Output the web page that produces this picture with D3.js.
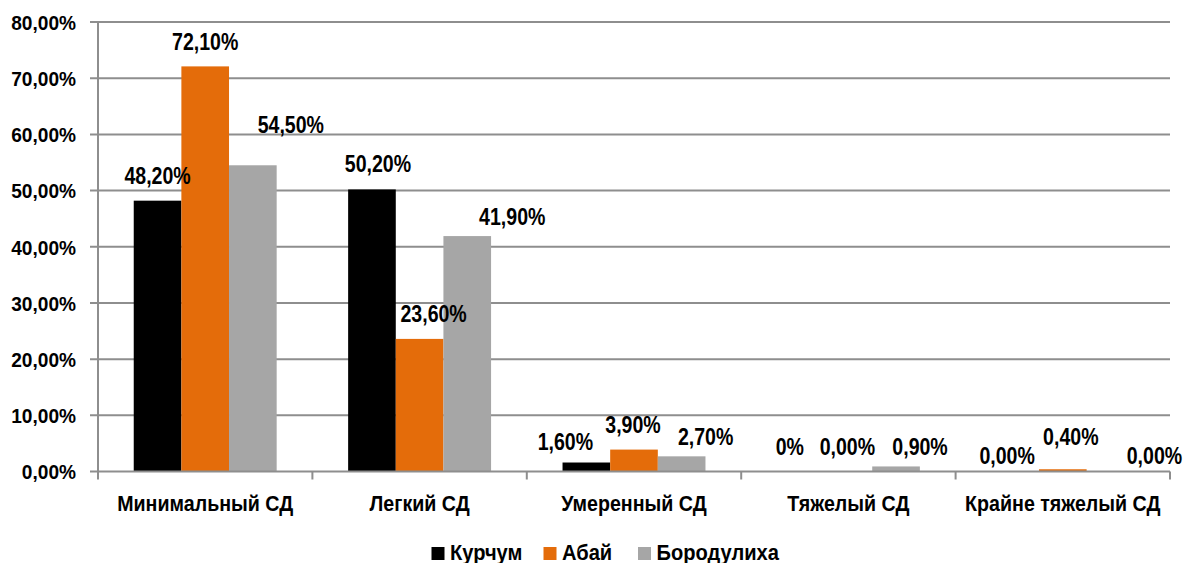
<!DOCTYPE html>
<html>
<head>
<meta charset="utf-8">
<script src="https://cdn.jsdelivr.net/npm/d3@7"></script>
<style>
  html, body { margin: 0; padding: 0; background: #fff; }
  svg { display: block; }
  text { font-family: "Liberation Sans", Arial, sans-serif; font-weight: bold; fill: #000; }
</style>
</head>
<body>
<svg id="chart" width="1184" height="563"></svg>
<script>
// Severity categories of the diabetes distribution
const categories = ["Минимальный СД", "Легкий СД", "Умеренный СД", "Тяжелый СД", "Крайне тяжелый СД"];
// Regions (series)
const seriesNames = ["Курчум", "Абай", "Бородулиха"];
// Percent values per series, in category order
const kurchum     = [48.2, 50.2, 1.6, 0.0, 0.0];
const abai        = [72.1, 23.6, 3.9, 0.0, 0.4];
const borodulikha = [54.5, 41.9, 2.7, 0.9, 0.0];
// Printed data labels, in category order per series
const kurchumLabels     = ["48,20%", "50,20%", "1,60%", "0%", "0,00%"];
const abaiLabels        = ["72,10%", "23,60%", "3,90%", "0,00%", "0,40%"];
const borodulikhaLabels = ["54,50%", "41,90%", "2,70%", "0,90%", "0,00%"];
// Y axis ticks
const yTicks = [0, 10, 20, 30, 40, 50, 60, 70, 80];

const colors = ["#000000", "#E46C0A", "#A6A6A6"];

// Manual label nudges [dx, dy] per category, per series
const labelNudge = [
  [[0, 0], [0, 1], [38, -15]],
  [[6, 0], [14, 0], [45, 6]],
  [[-21, 4], [-1, 0], [24, 6]],
  [[-11, 0], [-1, 0], [24, 6]],
  [[-8, 9], [8, -7], [44, 9]]
];

const seriesValues = [kurchum, abai, borodulikha];
const seriesLabels = [kurchumLabels, abaiLabels, borodulikhaLabels];

const svg = d3.select("#chart");
const plot = { left: 98, right: 1170, top: 22, bottom: 471.5 };

const x0 = d3.scaleBand().domain(categories).range([plot.left, plot.right]).padding(0);
const x1 = d3.scaleBand().domain(seriesNames).range([0, x0.bandwidth()]).paddingInner(0).paddingOuter(0.75);
const y = d3.scaleLinear().domain([0, 80]).range([plot.bottom, plot.top]);

const gridColor = "#8e8e8e";

// Condensed bold text: placed at (x, y) and squeezed horizontally
function placeText(sel, fx, fy, sx) {
  sel.attr("transform", (d, i) => `translate(${fx(d, i)},${fy(d, i)}) scale(${sx},1)`);
}

// Horizontal gridlines (with small left ticks)
svg.append("g")
  .selectAll("line")
  .data(yTicks.filter(t => t > 0))
  .join("line")
  .attr("x1", plot.left - 8)
  .attr("x2", plot.right)
  .attr("y1", d => y(d))
  .attr("y2", d => y(d))
  .attr("stroke", gridColor)
  .attr("stroke-width", 2);

// Y axis tick labels
svg.append("g")
  .selectAll("text")
  .data(yTicks)
  .join("text")
  .call(placeText, () => 76, d => y(d) + 7.8, 0.91)
  .attr("text-anchor", "end")
  .attr("font-size", 21)
  .text(d => d3.format(".2f")(d).replace(".", ",") + "%");

// Bars
const groups = svg.append("g")
  .selectAll("g")
  .data(categories)
  .join("g")
  .attr("transform", d => `translate(${x0(d)},0)`);

groups.selectAll("rect")
  .data((c, ci) => seriesNames.map((s, si) => ({ s, si, ci, v: seriesValues[si][ci] })))
  .join("rect")
  .attr("x", d => x1(d.s))
  .attr("width", x1.bandwidth())
  .attr("y", d => y(d.v))
  .attr("height", d => plot.bottom - y(d.v))
  .attr("fill", d => colors[d.si]);

// Data labels
groups.selectAll("text")
  .data((c, ci) => seriesNames.map((s, si) => ({ s, si, ci, v: seriesValues[si][ci], t: seriesLabels[si][ci] })))
  .join("text")
  .call(placeText,
    d => x1(d.s) + x1.bandwidth() / 2 + labelNudge[d.ci][d.si][0],
    d => y(d.v) - 17 + labelNudge[d.ci][d.si][1],
    0.85)
  .attr("text-anchor", "middle")
  .attr("font-size", 23)
  .text(d => d.t);

// X axis line and Y axis line
svg.append("line")
  .attr("x1", plot.left - 8).attr("x2", plot.right)
  .attr("y1", plot.bottom).attr("y2", plot.bottom)
  .attr("stroke", gridColor).attr("stroke-width", 2);
svg.append("line")
  .attr("x1", plot.left).attr("x2", plot.left)
  .attr("y1", plot.top).attr("y2", plot.bottom + 8)
  .attr("stroke", gridColor).attr("stroke-width", 2);

// Category boundary ticks
svg.append("g")
  .selectAll("line")
  .data(categories.slice(1).map(c => x0(c)).concat([plot.right]))
  .join("line")
  .attr("x1", d => d).attr("x2", d => d)
  .attr("y1", plot.bottom).attr("y2", plot.bottom + 8)
  .attr("stroke", gridColor).attr("stroke-width", 2);

// Category labels
svg.append("g")
  .selectAll("text")
  .data(categories)
  .join("text")
  .call(placeText, d => x0(d) + x0.bandwidth() / 2, () => 511, 0.88)
  .attr("text-anchor", "middle")
  .attr("font-size", 22.3)
  .text(d => d);

// Legend
const legendX = [431.5, 543.5, 638];
const legend = svg.append("g")
  .selectAll("g")
  .data(seriesNames)
  .join("g")
  .attr("transform", (d, i) => `translate(${legendX[i]},0)`);
legend.append("rect")
  .attr("x", 0).attr("y", 547)
  .attr("width", 13).attr("height", 13)
  .attr("fill", (d, i) => colors[i]);
legend.append("text")
  .call(placeText, () => 18.5, () => 559.5, 0.94)
  .attr("font-size", 21.4)
  .text(d => d);
</script>
</body>
</html>
